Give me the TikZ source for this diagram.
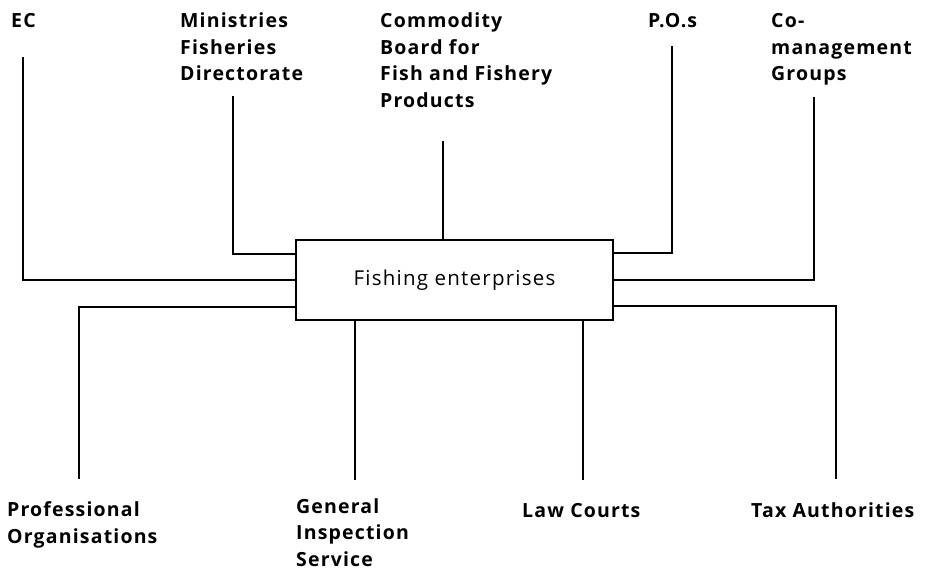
\documentclass[tikz,border=0pt]{standalone}
\usepackage{fontspec}
\setmainfont{Open Sans}[LetterSpace=6]
\usepackage{tikz}
\usetikzlibrary{positioning,calc}

\begin{document}
\begin{tikzpicture}[
  x=1pt,y=-1pt,
  lbl/.style={anchor=base west,align=left,inner sep=0pt,font=\fontsize{19.5}{26.5}\selectfont\bfseries},
  box/.style={draw,line width=1.8pt,minimum width=317pt,minimum height=80pt,inner sep=0pt,font=\fontsize{20.5}{26.5}\selectfont},
  link/.style={line width=1.9pt}
]
  \useasboundingbox (0,0) rectangle (926,569);
  \node[box] (fish) at (454.5,280) {Fishing enterprises};
  % upper partners (anchored at the baseline of the last line)
  \node[lbl] (ec) at (11,28) {EC};
  \node[lbl] (min) at (180,81) {Ministries\\Fisheries\\Directorate};
  \node[lbl] (board) at (380,107.5) {Commodity\\Board for\\Fish and Fishery\\Products};
  \node[lbl] (po) at (648,28) {P.O.s};
  \node[lbl] (comg) at (771,81) {Co-\\management\\Groups};
  % lower partners
  \node[lbl] (prof) at (7,543) {Professional\\Organisations};
  \node[lbl] (gis) at (296,566) {General\\Inspection\\Service};
  \node[lbl] (law) at (522,517) {Law Courts};
  \node[lbl] (tax) at (751,517) {Tax Authorities};
  % free ends of the links
  \coordinate (ec-e) at (23,57);
  \coordinate (min-e) at (233,96);
  \coordinate (board-e) at (443,141);
  \coordinate (po-e) at (672,46);
  \coordinate (comg-e) at (814,97);
  \coordinate (prof-e) at (79,479);
  \coordinate (gis-e) at (355,480);
  \coordinate (law-e) at (583,480);
  \coordinate (tax-e) at (836,479);
  \draw[link] (ec-e) |- (fish.west);
  \draw[link] (min-e) |- ([yshift=26pt]fish.west);
  \draw[link] (board-e) -- (board-e |- fish.north);
  \draw[link] (po-e) |- ([yshift=27pt]fish.east);
  \draw[link] (comg-e) |- (fish.east);
  \draw[link] (prof-e) |- ([yshift=-27pt]fish.west);
  \draw[link] (gis-e) -- (gis-e |- fish.south);
  \draw[link] (law-e) -- (law-e |- fish.south);
  \draw[link] (tax-e) |- ([yshift=-26pt]fish.east);
\end{tikzpicture}
\end{document}
